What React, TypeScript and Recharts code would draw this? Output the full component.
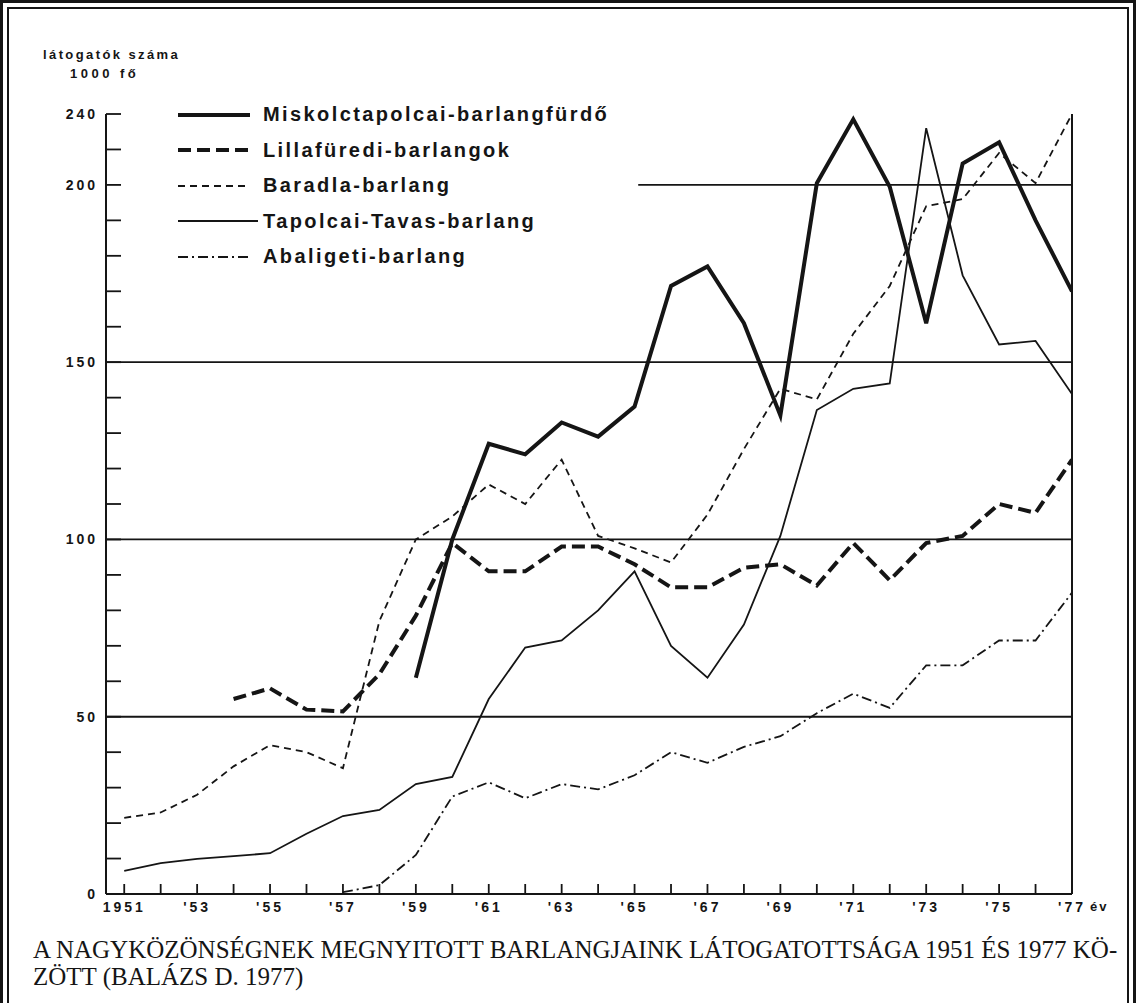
import React from 'react';
import { LineChart, Line, XAxis, YAxis, ReferenceLine, Legend } from 'recharts';

const INK = '#151515';
const SANS = '"Liberation Sans", Arial, sans-serif';
const SERIF = '"Liberation Serif", "Times New Roman", serif';

// years on the x axis
const YEARS = [
  1951, 1952, 1953, 1954, 1955, 1956, 1957, 1958, 1959, 1960, 1961, 1962, 1963, 1964,
  1965, 1966, 1967, 1968, 1969, 1970, 1971, 1972, 1973, 1974, 1975, 1976, 1977,
];
const YEAR_LABELS: Record<number, string> = {
  1951: '1951', 1953: "'53", 1955: "'55", 1957: "'57", 1959: "'59", 1961: "'61", 1963: "'63",
  1965: "'65", 1967: "'67", 1969: "'69", 1971: "'71", 1973: "'73", 1975: "'75", 1977: "'77",
};

// visitors, thousand people
const VALUE_TICKS = [0, 10, 20, 30, 40, 50, 60, 70, 80, 90, 100, 110, 120, 130, 140, 150, 160, 170, 180, 190, 200, 210, 220];
// the printed axis marks its top tick "240"
const VALUE_LABELS: Record<number, string> = { 0: '0', 50: '50', 100: '100', 150: '150', 200: '200', 220: '240' };

const MISKOLC = [
  null, null, null, null, null, null, null, null,
  61, 100, 127, 124, 133, 129, 137.5, 171.5, 177, 161, 135, 200.5, 218.5, 199.5, 161, 206, 212, 190, 170,
];
const LILLAFURED = [
  null, null, null,
  55, 58, 52, 51.5, 62, 78.5, 99, 91, 91, 98, 98, 93, 86.5, 86.5, 92, 93, 87, 99, 88.5, 99, 101, 110, 107.5, 122.5,
];
const BARADLA = [
  21.5, 23, 28, 36, 42, 40, 35.5, 77, 100, 106.5, 115.5, 110, 122.5, 101, 97.5, 93.5, 107, 125.5, 142.5,
  139.5, 158, 171.5, 194, 196, 209, 200.5, 220,
];
const TAPOLCA_TAVAS = [
  6.5, 8.7, 9.9, 10.7, 11.5, 17, 22, 23.7, 31, 33, 55, 69.5, 71.5, 80, 91, 70, 61, 76, 101, 136.5,
  142.5, 144, 216, 174.5, 155, 156, 141,
];
const ABALIGET = [
  null, null, null, null, null, null,
  0.5, 2.5, 11, 27.5, 31.5, 27, 31, 29.5, 33.5, 40, 37, 41.5, 44.5, 51, 56.5, 52.5, 64.5, 64.5, 71.5, 71.5, 85,
];

const SERIES = [
  { key: 'miskolc', name: 'Miskolctapolcai-barlangfürdő', values: MISKOLC, width: 4, dash: undefined, sample: 80 },
  { key: 'lilla', name: 'Lillafüredi-barlangok', values: LILLAFURED, width: 4, dash: '13 6', sample: 80 },
  { key: 'baradla', name: 'Baradla-barlang', values: BARADLA, width: 1.8, dash: '7 5', sample: 80 },
  { key: 'tavas', name: 'Tapolcai-Tavas-barlang', values: TAPOLCA_TAVAS, width: 1.8, dash: undefined, sample: 88 },
  { key: 'abaliget', name: 'Abaligeti-barlang', values: ABALIGET, width: 1.8, dash: '10 4 2 4', sample: 80 },
];

const rows = YEARS.map((year, i) => {
  const row: Record<string, number | null> = { year };
  SERIES.forEach((s) => { row[s.key] = s.values[i]; });
  return row;
});

const tickFont = { fill: INK, fontSize: 14, fontWeight: 700, fontFamily: SANS, letterSpacing: 3 };

function CaveLegend() {
  return (
    <div style={{ fontFamily: SANS, color: INK, textAlign: 'left' }}>
      {SERIES.map((s) => (
        <div key={s.key} style={{ display: 'flex', alignItems: 'center', height: 35.5 }}>
          <svg width={93} height={12} style={{ flex: 'none' }}>
            <line x1={8} x2={s.sample} y1={6} y2={6} stroke={INK} strokeWidth={s.width} strokeDasharray={s.dash} />
          </svg>
          <span style={{ fontSize: 20, fontWeight: 700, letterSpacing: 2.4, whiteSpace: 'nowrap' }}>{s.name}</span>
        </div>
      ))}
    </div>
  );
}

export default function App() {
  return (
    <div style={{ position: 'relative', width: 1136, height: 1003, background: '#fff', overflow: 'hidden' }}>
      <style>{'body{margin:0}'}</style>
      <div style={{ position: 'absolute', left: 0, top: 0, width: 1136, height: 1020, border: `3px solid ${INK}`, boxSizing: 'border-box' }} />
      <div style={{ position: 'absolute', left: 7, top: 7, width: 1122, height: 1020, border: `2px solid ${INK}`, boxSizing: 'border-box' }} />

      <div style={{ position: 'absolute', left: 43, top: 47, fontFamily: SANS, fontWeight: 700, fontSize: 13, lineHeight: '16px', letterSpacing: 2.4, color: INK, whiteSpace: 'nowrap' }}>
        látogatók száma
      </div>
      <div style={{ position: 'absolute', left: 70, top: 66, fontFamily: SANS, fontWeight: 700, fontSize: 13, lineHeight: '16px', letterSpacing: 3.5, color: INK, whiteSpace: 'nowrap' }}>
        1000 fő
      </div>

      <div style={{ position: 'absolute', left: 0, top: 0 }}>
        <LineChart width={1136} height={1003} data={rows} margin={{ top: 114, right: 63, bottom: 79, left: 66 }}>
          <XAxis
            xAxisId="x"
            type="number"
            dataKey="year"
            domain={[1950.5, 1977]}
            allowDataOverflow
            ticks={YEARS}
            interval={0}
            height={30}
            tickSize={-10}
            tickMargin={18}
            tickFormatter={(v: number) => YEAR_LABELS[v] ?? ''}
            axisLine={{ stroke: INK, strokeWidth: 2 }}
            tickLine={{ stroke: INK, strokeWidth: 1.8 }}
            tick={tickFont}
          />
          <YAxis
            yAxisId="l"
            orientation="left"
            type="number"
            domain={[0, 220]}
            allowDataOverflow
            ticks={VALUE_TICKS}
            interval={0}
            width={40}
            tickSize={-15}
            tickMargin={23}
            tickFormatter={(v: number) => VALUE_LABELS[v] ?? ''}
            axisLine={{ stroke: INK, strokeWidth: 2 }}
            tickLine={{ stroke: INK, strokeWidth: 1.8 }}
            tick={tickFont}
          />
          <YAxis
            yAxisId="r"
            orientation="right"
            type="number"
            domain={[0, 220]}
            allowDataOverflow
            ticks={VALUE_TICKS}
            interval={0}
            width={1}
            tickSize={-15}
            tick={false}
            axisLine={{ stroke: INK, strokeWidth: 2 }}
            tickLine={{ stroke: INK, strokeWidth: 1.8 }}
          />

          {[50, 100, 150].map((v) => (
            <ReferenceLine key={v} xAxisId="x" yAxisId="l" y={v} stroke={INK} strokeWidth={1.8} />
          ))}
          <ReferenceLine
            xAxisId="x"
            yAxisId="l"
            segment={[{ x: 1965.1, y: 200 }, { x: 1977, y: 200 }]}
            stroke={INK}
            strokeWidth={1.8}
          />

          {SERIES.map((s) => (
            <Line
              key={s.key}
              xAxisId="x"
              yAxisId="l"
              type="linear"
              dataKey={s.key}
              name={s.name}
              stroke={INK}
              strokeWidth={s.width}
              strokeDasharray={s.dash}
              dot={false}
              activeDot={false}
              isAnimationActive={false}
            />
          ))}

          <Legend
            verticalAlign="middle"
            layout="horizontal"
            align="center"
            wrapperStyle={{ position: 'absolute', left: 170, top: 97, width: 470, height: 180 }}
            content={() => <CaveLegend />}
          />
        </LineChart>
      </div>

      <div style={{ position: 'absolute', left: 1090, top: 899, fontFamily: SANS, fontWeight: 700, fontSize: 13, letterSpacing: 2, color: INK }}>
        év
      </div>

      <div style={{ position: 'absolute', left: 33, top: 936, fontFamily: SERIF, fontSize: 25, lineHeight: '27px', color: INK, whiteSpace: 'nowrap' }}>
        A NAGYKÖZÖNSÉGNEK MEGNYITOTT BARLANGJAINK LÁTOGATOTTSÁGA 1951 ÉS 1977 KÖ-
        <br />
        ZÖTT (BALÁZS D. 1977)
      </div>
    </div>
  );
}
